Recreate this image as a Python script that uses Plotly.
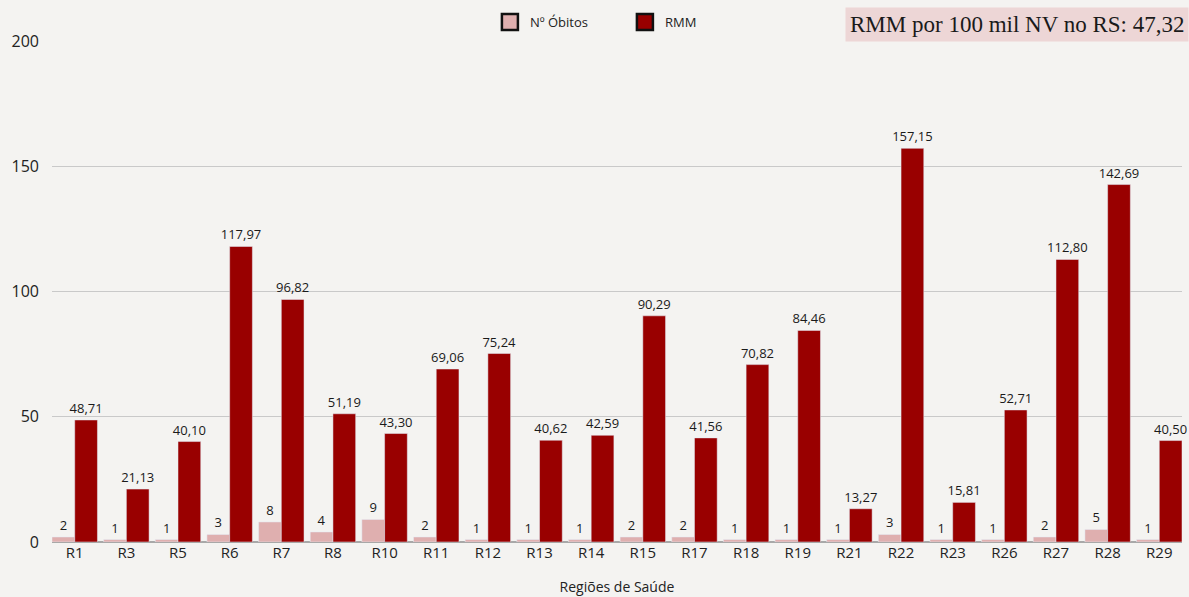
import plotly.graph_objects as go

regioes = ["R1", "R3", "R5", "R6", "R7", "R8", "R10", "R11", "R12", "R13", "R14",
           "R15", "R17", "R18", "R19", "R21", "R22", "R23", "R26", "R27", "R28", "R29"]
obitos = [2, 1, 1, 3, 8, 4, 9, 2, 1, 1, 1, 2, 2, 1, 1, 1, 3, 1, 1, 2, 5, 1]
rmm = [48.71, 21.13, 40.10, 117.97, 96.82, 51.19, 43.30, 69.06, 75.24, 40.62, 42.59,
       90.29, 41.56, 70.82, 84.46, 13.27, 157.15, 15.81, 52.71, 112.80, 142.69, 40.50]
rmm_estado = 47.32

PINK = "#DFAFAF"
RED = "#990000"
BG = "#F4F3F1"
FONT = "Open Sans"


def br(v):
    return f"{v:.2f}".replace(".", ",")


fig = go.Figure()
fig.add_trace(go.Bar(
    x=regioes, y=obitos, name="Nº Óbitos", marker_color=PINK,
    text=[str(v) for v in obitos], textposition="outside", constraintext="none",
    textfont=dict(size=13, color="#1a1a1a"), cliponaxis=False, showlegend=False,
))
fig.add_trace(go.Bar(
    x=regioes, y=rmm, name="RMM", marker_color=RED,
    text=[br(v) for v in rmm], textposition="outside", constraintext="none",
    textfont=dict(size=13, color="#1a1a1a"), cliponaxis=False, showlegend=False,
))
# legend swatches with dark outline
for nm, col in [("Nº Óbitos", PINK), ("RMM", RED)]:
    fig.add_trace(go.Scatter(
        x=[None], y=[None], mode="markers", name=nm,
        marker=dict(symbol="square", size=16, color=col, line=dict(color="#111", width=2.5)),
    ))

fig.add_annotation(
    text=f"RMM por 100 mil NV no RS: {br(rmm_estado)}",
    xref="paper", yref="paper", x=1.006, y=0.998, xanchor="right", yanchor="bottom",
    showarrow=False, bgcolor="#EDD6D6", borderpad=4,
    font=dict(family="Liberation Serif", size=23, color="#1a1a1a"),
)

fig.update_layout(
    width=1189, height=597,
    paper_bgcolor=BG, plot_bgcolor=BG,
    margin=dict(l=52, r=7, t=41, b=55, autoexpand=False),
    barmode="group", bargap=0.12, bargroupgap=0,
    font=dict(family=FONT, size=15, color="#222"),
    legend=dict(orientation="h", x=0.507, xanchor="center", y=1.038, yanchor="middle",
                font=dict(size=13, color="#222"), bgcolor="rgba(0,0,0,0)",
                itemwidth=30, entrywidth=90, entrywidthmode="pixels"),
    xaxis=dict(title=dict(text="Regiões de Saúde", font=dict(size=14), standoff=21),
               range=[-0.44, 21.44], tickfont=dict(size=15),
               showline=False, ticks="", automargin=False),
    yaxis=dict(range=[0, 200], tickvals=[0, 50, 100, 150, 200],
               showgrid=True, gridcolor="#C9C9C9", gridwidth=1,
               zeroline=True, zerolinecolor="#A8A8A8", zerolinewidth=1.5,
               tickfont=dict(size=16), ticklabelstandoff=12, automargin=False),
)

fig.write_html("out.html")
